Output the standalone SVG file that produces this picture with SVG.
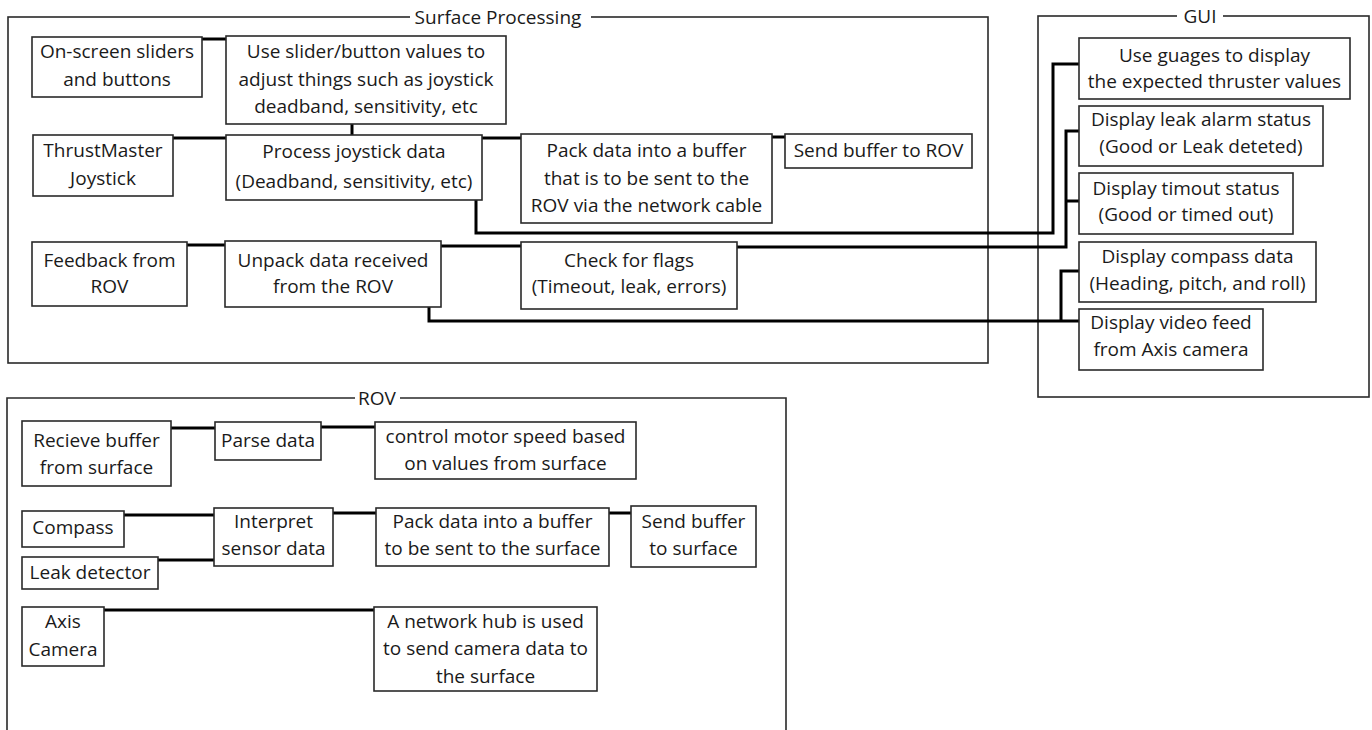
<svg xmlns="http://www.w3.org/2000/svg" width="1372" height="730" viewBox="0 0 1372 730">
<style>
text{font-family:"Open Sans","Noto Sans","Liberation Sans",sans-serif;font-size:19px;fill:#1a1a1a;text-anchor:middle}
.box{fill:#fff;stroke:#2a2a2a;stroke-width:1.6}
.frame{fill:none;stroke:#2a2a2a;stroke-width:1.6}
.tbg{fill:#fff;stroke:none}
.c{fill:none;stroke:#000;stroke-width:3;stroke-linejoin:miter;stroke-linecap:square}
</style>
<rect width="1372" height="730" fill="#fff"/>
<g id="frames">
<rect class="frame" x="8" y="17" width="980" height="346"/>
<rect class="tbg" x="410" y="8" width="181" height="20"/>
<text x="498" y="24">Surface Processing</text>
<rect class="frame" x="1038" y="16" width="331" height="381"/>
<rect class="tbg" x="1177" y="6" width="46" height="20"/>
<text x="1200" y="23">GUI</text>
<path class="frame" d="M7 731V398H786V731"/>
<rect class="tbg" x="355" y="388" width="45" height="20"/>
<text x="377" y="405">ROV</text>
</g>
<g id="connectors">
<path class="c" d="M202 39H226"/>
<path class="c" d="M352 124V135"/>
<path class="c" d="M173 138H226"/>
<path class="c" d="M482 138H521"/>
<path class="c" d="M772 137H785"/>
<path class="c" d="M476 200V233H1053V64H1079"/>
<path class="c" d="M187 245H225"/>
<path class="c" d="M441 246H521"/>
<path class="c" d="M737 247H1066V131H1079M1066 201H1079"/>
<path class="c" d="M429 307V321H1079M1061 321V271H1079"/>
<path class="c" d="M171 428H215"/>
<path class="c" d="M321 427H375"/>
<path class="c" d="M124 515H214"/>
<path class="c" d="M158 560H214"/>
<path class="c" d="M333 513H376"/>
<path class="c" d="M609 513H631"/>
<path class="c" d="M104 610H374"/>
</g>
<g id="n_onscreen"><rect class="box" x="32" y="37" width="170" height="60"/><text x="117" y="58">On-screen sliders</text><text x="117" y="86">and buttons</text></g>
<g id="n_useslider"><rect class="box" x="226" y="36" width="280" height="88"/><text x="366" y="58">Use slider/button values to</text><text x="366" y="86">adjust things such as joystick</text><text x="366" y="113">deadband, sensitivity, etc</text></g>
<g id="n_thrust"><rect class="box" x="33" y="135" width="140" height="61"/><text x="103" y="157">ThrustMaster</text><text x="103" y="185">Joystick</text></g>
<g id="n_process"><rect class="box" x="226" y="135" width="256" height="65"/><text x="354" y="158">Process joystick data</text><text x="354" y="188">(Deadband, sensitivity, etc)</text></g>
<g id="n_pack"><rect class="box" x="521" y="134" width="251" height="89"/><text x="646.5" y="157">Pack data into a buffer</text><text x="646.5" y="185">that is to be sent to the</text><text x="646.5" y="212">ROV via the network cable</text></g>
<g id="n_send"><rect class="box" x="785" y="134" width="187" height="34"/><text x="878.5" y="157">Send buffer to ROV</text></g>
<g id="n_feedback"><rect class="box" x="32" y="242" width="155" height="64"/><text x="109.5" y="267">Feedback from</text><text x="109.5" y="293">ROV</text></g>
<g id="n_unpack"><rect class="box" x="225" y="241" width="216" height="66"/><text x="333" y="267">Unpack data received</text><text x="333" y="293">from the ROV</text></g>
<g id="n_check"><rect class="box" x="521" y="242" width="216" height="67"/><text x="629" y="267">Check for flags</text><text x="629" y="293">(Timeout, leak, errors)</text></g>
<g id="n_gauges"><rect class="box" x="1079" y="38" width="271" height="61"/><text x="1214.5" y="62">Use guages to display</text><text x="1214.5" y="88">the expected thruster values</text></g>
<g id="n_leakstatus"><rect class="box" x="1079" y="106" width="244" height="60"/><text x="1201" y="126">Display leak alarm status</text><text x="1201" y="153">(Good or Leak deteted)</text></g>
<g id="n_timeout"><rect class="box" x="1079" y="173" width="214" height="61"/><text x="1186" y="195">Display timout status</text><text x="1186" y="221">(Good or timed out)</text></g>
<g id="n_compassdisp"><rect class="box" x="1079" y="242" width="237" height="60"/><text x="1197.5" y="263">Display compass data</text><text x="1197.5" y="290">(Heading, pitch, and roll)</text></g>
<g id="n_video"><rect class="box" x="1079" y="309" width="184" height="61"/><text x="1171" y="329">Display video feed</text><text x="1171" y="356">from Axis camera</text></g>
<g id="n_recieve"><rect class="box" x="22" y="421" width="149" height="65"/><text x="96.5" y="447">Recieve buffer</text><text x="96.5" y="474">from surface</text></g>
<g id="n_parse"><rect class="box" x="215" y="422" width="106" height="38"/><text x="268" y="447">Parse data</text></g>
<g id="n_control"><rect class="box" x="375" y="422" width="261" height="57"/><text x="505.5" y="443">control motor speed based</text><text x="505.5" y="470">on values from surface</text></g>
<g id="n_compass"><rect class="box" x="22" y="511" width="102" height="36"/><text x="73" y="534">Compass</text></g>
<g id="n_leakdet"><rect class="box" x="22" y="557" width="136" height="32"/><text x="90" y="579">Leak detector</text></g>
<g id="n_interpret"><rect class="box" x="214" y="508" width="119" height="58"/><text x="273.5" y="528">Interpret</text><text x="273.5" y="555">sensor data</text></g>
<g id="n_pack2"><rect class="box" x="376" y="508" width="233" height="58"/><text x="492.5" y="528">Pack data into a buffer</text><text x="492.5" y="555">to be sent to the surface</text></g>
<g id="n_send2"><rect class="box" x="631" y="506" width="125" height="61"/><text x="693.5" y="528">Send buffer</text><text x="693.5" y="555">to surface</text></g>
<g id="n_axis"><rect class="box" x="22" y="607" width="82" height="59"/><text x="63" y="628">Axis</text><text x="63" y="656">Camera</text></g>
<g id="n_hub"><rect class="box" x="374" y="607" width="223" height="84"/><text x="485.5" y="628">A network hub is used</text><text x="485.5" y="655">to send camera data to</text><text x="485.5" y="683">the surface</text></g>
</svg>
